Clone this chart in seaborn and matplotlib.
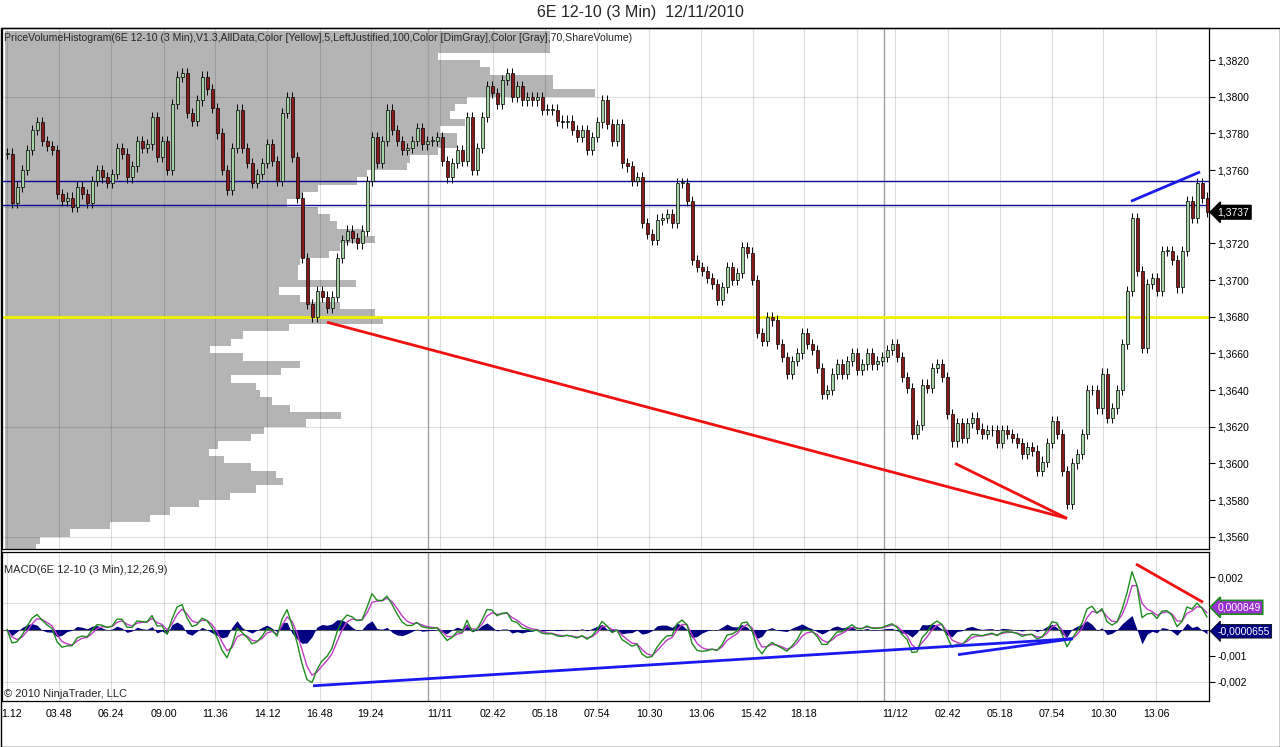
import numpy as np
import pandas as pd
import matplotlib
matplotlib.use("Agg")
import matplotlib.pyplot as plt
import matplotlib.transforms as mtransforms
from matplotlib.ticker import FuncFormatter
import seaborn as sns

# 6E 12-10 closes, every 5 bars (3 min bars)
close_day1 = [1.3769, 1.3742, 1.3751, 1.3760, 1.3771, 1.3782, 1.3786, 1.3776, 1.3773, 1.3771,
              1.3747, 1.3743, 1.3745, 1.3740, 1.3751, 1.3747, 1.3742, 1.3754, 1.3760, 1.3756,
              1.3753, 1.3758, 1.3772, 1.3769, 1.3756, 1.3762, 1.3776, 1.3772, 1.3774, 1.3789,
              1.3767, 1.3776, 1.3760, 1.3796, 1.3811, 1.3813, 1.3791, 1.3787, 1.3798, 1.3811,
              1.3804, 1.3794, 1.3780, 1.3760, 1.3749, 1.3772, 1.3793, 1.3772, 1.3764, 1.3753,
              1.3758, 1.3764, 1.3774, 1.3765, 1.3754, 1.3791, 1.3800, 1.3767, 1.3745, 1.3712]
close_day1_late = [1.3687, 1.3680, 1.3694, 1.3691, 1.3685, 1.3691, 1.3712, 1.3722, 1.3727, 1.3723,
                   1.3720, 1.3727, 1.3754, 1.3778, 1.3764, 1.3776, 1.3793, 1.3782, 1.3776, 1.3771,
                   1.3772, 1.3776, 1.3783, 1.3774, 1.3776, 1.3776, 1.3778]
close_day2 = [1.3765, 1.3756, 1.3764,
              1.3771, 1.3765, 1.3789, 1.3760, 1.3772, 1.3789, 1.3806, 1.3802, 1.3796, 1.3809,
              1.3813, 1.3800, 1.3806, 1.3798, 1.3800, 1.3798, 1.3800, 1.3793, 1.3793, 1.3793,
              1.3787, 1.3786, 1.3787, 1.3782, 1.3778, 1.3782, 1.3771, 1.3778, 1.3786,
              1.3798, 1.3785, 1.3776, 1.3785, 1.3764, 1.3762, 1.3754, 1.3756, 1.3731, 1.3725,
              1.3722, 1.3733, 1.3734, 1.3736, 1.3731, 1.3753, 1.3753, 1.3743, 1.3711, 1.3707,
              1.3705, 1.3701, 1.3698, 1.3689, 1.3696, 1.3707, 1.3700, 1.3704, 1.3718, 1.3715,
              1.3700, 1.3671, 1.3667, 1.3680, 1.3678, 1.3665, 1.3658, 1.3649, 1.3656, 1.3660,
              1.3671, 1.3665, 1.3662, 1.3652, 1.3638, 1.3640, 1.3649, 1.3654, 1.3649, 1.3656,
              1.3660, 1.3651, 1.3654, 1.3660, 1.3654, 1.3656, 1.3658, 1.3662]
close_day3 = [1.3665, 1.3658,
              1.3647, 1.3641, 1.3616,
              1.3621, 1.3643, 1.3641, 1.3652, 1.3654, 1.3647, 1.3627, 1.3612, 1.3622, 1.3614,
              1.3622, 1.3625, 1.3619, 1.3616, 1.3618, 1.3618, 1.3611, 1.3618, 1.3616, 1.3614,
              1.3611, 1.3605, 1.3609, 1.3607, 1.3596, 1.3601, 1.3611, 1.3623, 1.3616, 1.3596,
              1.3578, 1.3600, 1.3605, 1.3616, 1.3640, 1.3640, 1.3630, 1.3649, 1.3625, 1.3630,
              1.3640, 1.3665, 1.3694, 1.3734, 1.3705, 1.3663, 1.3698, 1.3701, 1.3694, 1.3716,
              1.3716, 1.3711, 1.3696, 1.3716, 1.3743, 1.3734, 1.3753, 1.3745, 1.3737]
closes = close_day1 + close_day1_late + close_day2 + close_day3
bars_per_sample = 4.9

# time axis (positions in sample units)
tick_pos = [0, 10.4, 20.8, 31.4, 41.6, 52, 62.6, 72.8, 86.6, 97.2, 107.6, 118,
            128.4, 138.8, 149.2, 159.4, 170, 177.6, 188.2, 198.6, 209, 219.2, 229.8]
tick_labels = ['1.12', '03.48', '06.24', '09.00', '11.36', '14.12', '16.48', '19.24',
               '11/11', '02.42', '05.18', '07.54', '10.30', '13.06', '15.42', '18.18',
               '', '11/12', '02.42', '05.18', '07.54', '10.30', '13.06']
session_breaks = [84.2, 175.4]

# price volume histogram, rows of 4 ticks from the top
profile_top = 1.3834
profile_step = 0.0004
profile_volume = [545, 545, 545, 433, 475, 485, 548, 548, 590, 462,
                  450, 445, 460, 435, 452, 452, 433, 405, 402, 362,
                  352, 313, 297, 282, 313, 325, 332, 359, 370, 335,
                  324, 295, 293, 293, 351, 274, 295, 335, 370, 378,
                  284, 238, 226, 205, 238, 295, 276, 226, 251, 255,
                  267, 285, 336, 301, 259, 246, 213, 204, 219, 246,
                  271, 278, 251, 225, 194, 165, 145, 105, 65, 35, 31]

blue_levels = [1.3754, 1.3741]
yellow_level = 1.3680
price_red_lines = [[(64.0, 1.3677), (212.0, 1.3570)], [(189.6, 1.3600), (212.0, 1.3570)]]
price_blue_lines = [[(224.8, 1.3743), (238.6, 1.3759)]]
macd_blue_lines = [[(61.2, -0.00215), (213.2, -0.00035)], [(190.2, -0.00096), (213.2, -0.00035)]]
macd_red_lines = [[(225.8, 0.0025), (239.2, 0.00104)]]
last_avg, last_diff = 0.000849, -0.0000655

sns.set_theme(style="white")
plt.rcParams['font.family'] = ['Liberation Sans', 'DejaVu Sans']

df = pd.DataFrame({'close': closes})
df['i'] = np.arange(len(df))
df['open'] = df['close'].shift(1).fillna(df['close'])


def ema_span(n):
    # same lag as an n-bar EMA, but stepping once per sample
    return 1 + (n - 1) / bars_per_sample


# MACD 12,26,9
df['macd'] = (df['close'].ewm(span=ema_span(12), adjust=False).mean()
              - df['close'].ewm(span=ema_span(26), adjust=False).mean())
df['avg'] = df['macd'].ewm(span=ema_span(9), adjust=False).mean()
df['diff'] = df['macd'] - df['avg']

W, H = 1280, 747
fig = plt.figure(figsize=(W / 100, H / 100), dpi=100)
ax = fig.add_axes([2 / W, 1 - 549 / H, 1207 / W, 521 / H])
axm = fig.add_axes([2 / W, 1 - 701 / H, 1207 / W, 149 / H], sharex=ax)

xmin, xmax = -1, 240.4
grid_kw = dict(color='black', alpha=0.13, lw=0.8, zorder=1.5)

# ---- price panel
prof_y = profile_top - profile_step * np.arange(len(profile_volume))
prof_w = np.array(profile_volume) / max(profile_volume) * 0.489 * (xmax - xmin)
ax.barh(prof_y, prof_w, height=profile_step, left=-0.4, color='#B4B4B4', lw=0, zorder=1)

for p in np.arange(1.3560, 1.3830, 0.006):
    ax.axhline(p, **grid_kw)
for t in tick_pos:
    ax.axvline(t, **grid_kw)
    axm.axvline(t, **grid_kw)
for s in session_breaks:
    ax.axvline(s, color='#A0A0A0', lw=1.0, zorder=1.6)
    axm.axvline(s, color='#A0A0A0', lw=1.0, zorder=1.6)

for lv in blue_levels:
    ax.axhline(lv, color='#0A0A96', lw=1.0, zorder=2)
ax.axhline(yellow_level, color='#F0F000', lw=2.0, zorder=2)

o, c = df['open'].values, df['close'].values
lo, hi = np.minimum(o, c), np.maximum(o, c)
wick = 0.00028
ax.vlines(df['i'], lo - wick, hi + wick, color='black', lw=0.7, zorder=4)
body = np.maximum(hi - lo, 0.00003)
colors = np.where(c >= o, '#A3D3A3', '#8B1A1A')
ax.bar(df['i'], body, bottom=lo, width=0.6, color=colors, edgecolor='black', lw=0.5, zorder=5)

for seg in price_red_lines:
    (x0, y0), (x1, y1) = seg
    ax.plot([x0, x1], [y0, y1], color='#F01010', lw=2, zorder=6, solid_capstyle='butt')
for seg in price_blue_lines:
    (x0, y0), (x1, y1) = seg
    ax.plot([x0, x1], [y0, y1], color='#1A1AF0', lw=2, zorder=6, solid_capstyle='butt')

ax.set_xlim(xmin, xmax)
ax.set_ylim(1.35533, 1.38375)
ax.yaxis.tick_right()
# 1,3740 sits under the last-price marker
ax.set_yticks([v for v in np.arange(1.3560, 1.3821, 0.002) if abs(v - 1.3740) > 1e-6])
ax.yaxis.set_major_formatter(FuncFormatter(lambda v, _: f"{v:.4f}".replace('.', ',')))
ax.tick_params(axis='y', direction='out', length=4, width=0.8, pad=2, labelsize=7.5, colors='black')
ax.tick_params(axis='x', bottom=False, labelbottom=False)
ax.text(0.002, 0.991, "PriceVolumeHistogram(6E 12-10 (3 Min),V1.3,AllData,Color [Yellow],5,LeftJustified,100,"
        "Color [DimGray],Color [Gray],70,ShareVolume)", transform=ax.transAxes, ha='left', va='top',
        fontsize=7.6, zorder=7)

trans = mtransforms.blended_transform_factory(ax.transAxes, ax.transData)
ax.text(1.007, c[-1], f"{c[-1]:.4f}".replace('.', ','), transform=trans, ha='left', va='center',
        fontsize=7.5, color='white', clip_on=False, zorder=10,
        bbox=dict(boxstyle='larrow,pad=0.18', fc='black', ec='black'))

# ---- MACD panel
axm.axhline(0.001, **grid_kw)
axm.axhline(-0.002, **grid_kw)
axm.axhline(0, color='#606060', lw=0.8, zorder=1.8)
axm.fill_between(df['i'], 0, df['diff'], color='#000080', lw=0, zorder=2)
sns.lineplot(data=df, x='i', y='avg', ax=axm, color='#C03CC8', lw=1.0, zorder=3)
sns.lineplot(data=df, x='i', y='macd', ax=axm, color='#1E8C1E', lw=1.0, zorder=4)
for seg in macd_blue_lines:
    (x0, y0), (x1, y1) = seg
    axm.plot([x0, x1], [y0, y1], color='#1A1AF0', lw=2, zorder=6, solid_capstyle='butt')
for seg in macd_red_lines:
    (x0, y0), (x1, y1) = seg
    axm.plot([x0, x1], [y0, y1], color='#F01010', lw=2, zorder=6, solid_capstyle='butt')

axm.set_ylim(-0.00273, 0.00296)
axm.set_xlim(xmin, xmax)
axm.set_xlabel('')
axm.set_ylabel('')
axm.yaxis.tick_right()
# 0,001 and 0 sit under the value markers
axm.set_yticks([0.002, -0.001, -0.002])
axm.yaxis.set_major_formatter(FuncFormatter(lambda v, _: f"{v:.3f}".replace('.', ',')))
axm.tick_params(axis='y', direction='out', length=4, width=0.8, pad=2, labelsize=7.5, colors='black')
axm.set_xticks(tick_pos)
axm.set_xticklabels(tick_labels)
axm.tick_params(axis='x', direction='out', length=4, width=0.8, pad=2, labelsize=7.7, colors='black')
first = axm.get_xticklabels()[0]
first.set_ha('left')
first.set_transform(first.get_transform() + mtransforms.ScaledTranslation(-6 / 100, 0, fig.dpi_scale_trans))
axm.text(0.002, 0.88, "MACD(6E 12-10 (3 Min),12,26,9)", transform=axm.transAxes, ha='left', va='center',
         fontsize=8, zorder=7)
axm.text(0.002, 0.05, "© 2010 NinjaTrader, LLC", transform=axm.transAxes, ha='left', va='center',
         fontsize=8, zorder=7)

transm = mtransforms.blended_transform_factory(axm.transAxes, axm.transData)
axm.text(1.007, last_avg, f"{last_avg:.6f}".replace('.', ','), transform=transm, ha='left', va='center',
         fontsize=7.5, color='white', clip_on=False, zorder=11,
         bbox=dict(boxstyle='larrow,pad=0.18', fc='#9B30D0', ec='#1E8C1E', lw=1.2))
axm.text(1.007, last_diff, f"{last_diff:.7f}".replace('.', ','), transform=transm, ha='left', va='center',
         fontsize=7.5, color='white', clip_on=False, zorder=12,
         bbox=dict(boxstyle='larrow,pad=0.18', fc='#000080', ec='black', lw=0.5))

for a in (ax, axm):
    for sp in a.spines.values():
        sp.set_color('black')
        sp.set_linewidth(0.9)

fig.add_artist(plt.Rectangle((0.5 / W, 0.5 / H), (W - 1) / W, (H - 28.5) / H, transform=fig.transFigure,
                             fill=False, ec='black', lw=1))
fig.text(0.5, 1 - 12 / H, "6E 12-10 (3 Min)  12/11/2010", ha='center', va='center', fontsize=11.5)

fig.savefig('out.png', dpi=100, facecolor='white')
